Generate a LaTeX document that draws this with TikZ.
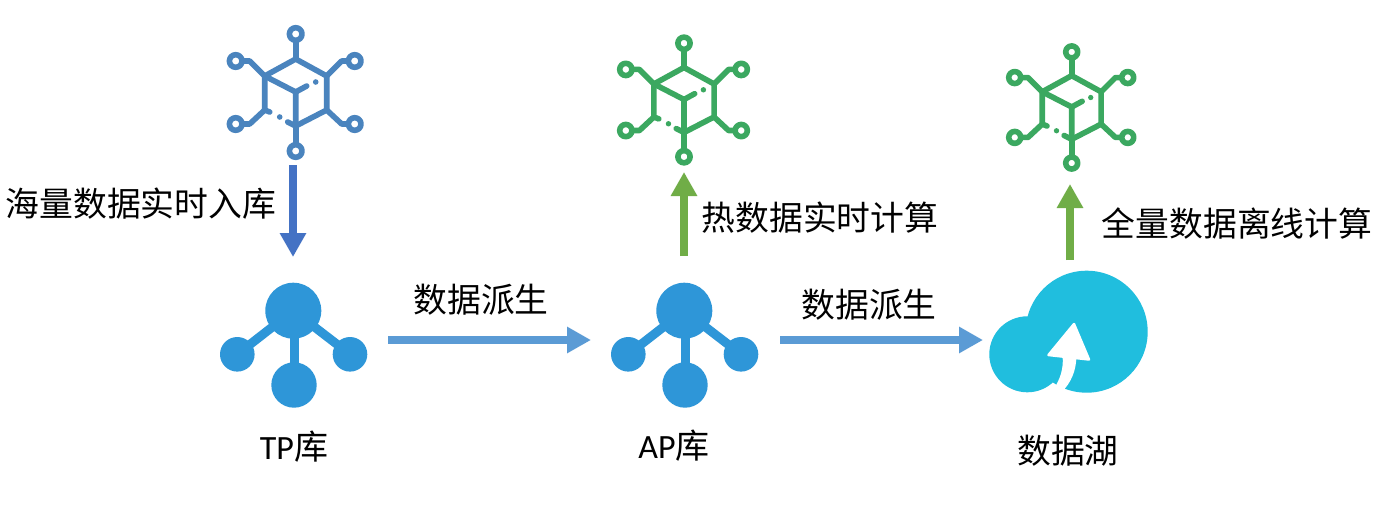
\documentclass[tikz,border=0pt]{standalone}
\usepackage{fontspec}
\setmainfont{Carlito}
\newfontfamily\cjk{Noto Sans CJK SC}
\usetikzlibrary{arrows.meta}
\definecolor{hexblue}{HTML}{4A84BE}
\definecolor{hexgreen}{HTML}{3BA860}
\definecolor{hubblue}{HTML}{2E96D8}
\definecolor{cloudcyan}{HTML}{20BEDE}
\definecolor{arrowdeep}{HTML}{4472C4}
\definecolor{arrowsky}{HTML}{5B9BD5}
\definecolor{arrowgreen}{HTML}{70AD47}
\newcommand{\hexicon}[4]{%
\begin{scope}[shift={(#1,#2)},scale=#3,draw=#4,fill=#4,line width=5.6pt,line cap=round,line join=round]
\draw (0,-33) -- (31,-16) -- (31,18) -- (0,34) -- (-8,30);
\draw (0,-33) -- (-31,-16) -- (-31,18) -- (-26,20);
\draw (-31,-16) -- (0,0) -- (0,34);
\draw (0,0) -- (11,-6);
\fill (20,-10) circle[radius=2.8];
\fill (-16,25) circle[radius=2.8];
\draw (0,-33) -- (0,-51);
\draw (0,34) -- (0,52);
\draw (31,-16) -- (46,-31) -- (52,-31);
\draw (31,18) -- (46,32) -- (52,32);
\draw (-31,-16) -- (-46,-31) -- (-53,-31);
\draw (-31,18) -- (-46,32) -- (-53,32);
\draw (0,-58) circle[radius=6.3];
\draw (0,59) circle[radius=6.3];
\draw (59,-31) circle[radius=6.3];
\draw (59,32) circle[radius=6.3];
\draw (-60,-31) circle[radius=6.3];
\draw (-60,32) circle[radius=6.3];
\end{scope}}
\newcommand{\hubicon}[1]{%
\begin{scope}[shift={(#1,0)},hubblue]
\draw[line width=9pt] (0,310.7) -- (-56,354.3);
\draw[line width=9pt] (0,310.7) -- (56.7,354.3);
\draw[line width=9pt] (0.7,310.7) -- (0.7,385);
\fill (0,310.7) circle[radius=28];
\fill (-56,354.3) circle[radius=17.3];
\fill (56.7,354.3) circle[radius=17.3];
\fill (0.7,385) circle[radius=22.7];
\end{scope}}
\tikzset{
  anchorbox/.style={inner sep=0pt,outer sep=0pt,minimum width=#1},
  cntext/.style={font=\cjk\fontsize{33.8}{36}\selectfont,inner sep=0pt,text=black},
  nametext/.style={font=\fontsize{34}{36}\selectfont,inner sep=0pt,text=black},
  flow/.style={line width=8pt,-{Triangle[length=24pt,width=25pt]}},
}
\begin{document}
\begin{tikzpicture}[x=1pt,y=-1pt]
\useasboundingbox[fill=white] (0,0) rectangle (1382,512);
% icons
\hexicon{295.7}{92}{1}{hexblue}
\hexicon{684}{99.5}{0.97}{hexgreen}
\hexicon{1071.7}{107}{0.95}{hexgreen}
\hubicon{293.3}
\hubicon{684.3}
% cloud
\fill[cloudcyan] (1086.7,331.7) circle[radius=61];
\fill[cloudcyan] (1027.3,354.3) circle[radius=38];
\fill[white] (1062.5,356) .. controls (1064,368) and (1060,380) .. (1053,390) -- (1062,392) .. controls (1071,382) and (1076,372) .. (1076.5,356) -- cycle;
\fill[white,draw=white,line width=2.5pt,line join=round] (1074,324) -- (1048.5,355) -- (1089,359.5) -- cycle;
% anchors for connectors
\node[anchorbox=10pt,minimum height=146pt] (hexa) at (293,92) {};
\node[anchorbox=10pt,minimum height=146pt] (hexb) at (684,99) {};
\node[anchorbox=10pt,minimum height=146pt] (hexc) at (1070,111) {};
\node[anchorbox=198pt,minimum height=118pt] (tp) at (293,316) {};
\node[anchorbox=190pt,minimum height=118pt] (ap) at (686,315) {};
\node[anchorbox=160pt,minimum height=118pt] (lake) at (1062,319) {};
\coordinate (tpout) at (388,340);
\coordinate (apin) at (591,340);
\coordinate (apout) at (780,340);
\coordinate (lakein) at (983,340);
\coordinate (apup) at (684,256);
\coordinate (apupend) at (684,172);
\coordinate (lakeup) at (1070,260);
\coordinate (lakeupend) at (1070,184);
% connectors
\draw[flow,arrowdeep] (hexa.south) -- (tp.north);
\draw[flow,arrowsky] (tpout) -- (apin);
\draw[flow,arrowsky] (apout) -- (lakein);
\draw[flow,arrowgreen] (apup) -- (apupend);
\draw[flow,arrowgreen] (lakeup) -- (lakeupend);
% labels
\node[cntext] (t1) at (141,204) {海量数据实时入库};
\node[cntext] (t2) at (481,300) {数据派生};
\node[cntext] (t3) at (869,305) {数据派生};
\node[cntext] (t4) at (820,218) {热数据实时计算};
\node[cntext] (t5) at (1237,224) {全量数据离线计算};
\node[nametext] (n1) at (294,447) {TP{\cjk 库}};
\node[nametext] (n2) at (674,446) {AP{\cjk 库}};
\node[cntext] (n3) at (1068,451) {数据湖};
\end{tikzpicture}
\end{document}
